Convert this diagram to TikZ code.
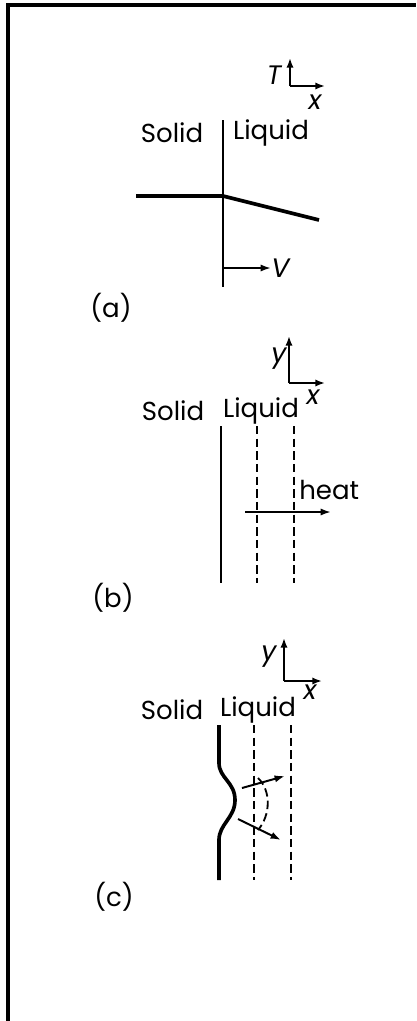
\documentclass[tikz,border=0pt]{standalone}
\usepackage{fontspec}
\setmainfont{Poppins}
\usetikzlibrary{arrows.meta}

\begin{document}
\begin{tikzpicture}[x=0.025cm, y=-0.025cm,
  lbl/.style={font=\fontsize{18.5}{20}\selectfont, inner sep=0pt},
  var/.style={lbl, font=\fontsize{19}{20}\selectfont\itshape},
  axis/.style={-{Latex[length=2.4mm, width=1.8mm]}, line width=1.4pt},
  wall/.style={line width=1.6pt},
  front/.style={line width=2.6pt},
  iso/.style={line width=1.3pt, dash pattern=on 6pt off 3pt},
  arr/.style={-{Latex[length=2.6mm, width=1.8mm]}, line width=1.4pt}]
  \useasboundingbox (0,0) rectangle (416,1021);
  % frame
  \draw[line width=2.4pt] (8,1021) -- (8,5) -- (416,5);

  % (a) interface moving into the liquid
  \coordinate (aO) at (290,86);
  \coordinate (aUp) at (290,58);
  \coordinate (aRt) at (325,86);
  \draw[axis] (aO) -- (aUp);
  \draw[axis] (aO) -- (aRt);
  \node[var] (aT) at (274,75) {T};
  \node[var] (aX) at (315,102) {x};
  \node[lbl] (aSolid) at (172,133) {Solid};
  \node[lbl] (aLiquid) at (271,133) {Liquid};
  \coordinate (aTop) at (223,120);
  \coordinate (aBot) at (223,287);
  \draw[wall] (aTop) -- (aBot);
  \coordinate (aLeft) at (136,196);
  \coordinate (aMid) at (223,196);
  \coordinate (aRight) at (319,220);
  \draw[front] (aLeft) -- (aMid) -- (aRight);
  \coordinate (aV0) at (223,268);
  \node[var, anchor=west] (aV) at (271,268) {V};
  \draw[arr] (aV0) -- (aV.west);
  \node[lbl] (aCap) at (111,308) {(a)};

  % (b) planar front with isotherms
  \coordinate (bO) at (289,383);
  \coordinate (bUp) at (289,336);
  \coordinate (bRt) at (325,383);
  \draw[axis] (bO) -- (bUp);
  \draw[axis] (bO) -- (bRt);
  \node[var] (bY) at (279,359) {y};
  \node[var] (bX) at (313,397) {x};
  \node[lbl] (bSolid) at (173,411) {Solid};
  \node[lbl] (bLiquid) at (261,411) {Liquid};
  \draw[wall] (221,426) -- (221,583);
  \draw[iso] (257,426) -- (257,583);
  \draw[iso] (294,426) -- (294,583);
  \coordinate (bH0) at (245,512);
  \coordinate (bH1) at (331,512);
  \draw[arr] (bH0) -- (bH1);
  \node[lbl, anchor=west] (bHeat) at (299,490) {heat};
  \node[lbl] (bCap) at (113,598) {(b)};

  % (c) perturbed front
  \coordinate (cO) at (284,681);
  \coordinate (cUp) at (284,638);
  \coordinate (cRt) at (322,681);
  \draw[axis] (cO) -- (cUp);
  \draw[axis] (cO) -- (cRt);
  \node[var] (cY) at (269,657) {y};
  \node[var] (cX) at (310,692) {x};
  \node[lbl] (cSolid) at (172,710) {Solid};
  \node[lbl] (cLiquid) at (258,710) {Liquid};
  \draw[front] (219,725) -- (219,763)
    .. controls (219,778) and (235,782) .. (235,800)
    .. controls (235,818) and (219,824) .. (219,840) -- (219,880);
  \draw[iso] (254,725) -- (254,880);
  \draw[iso] (291,725) -- (291,880);
  \draw[iso] (258,778) .. controls (271,790) and (271,815) .. (258,830);
  \coordinate (cA0) at (242,788);
  \coordinate (cA1) at (285,776);
  \coordinate (cB0) at (238,819);
  \coordinate (cB1) at (281,840);
  \draw[arr] (cA0) -- (cA1);
  \draw[arr] (cB0) -- (cB1);
  \node[lbl] (cCap) at (114,897) {(c)};
\end{tikzpicture}
\end{document}
